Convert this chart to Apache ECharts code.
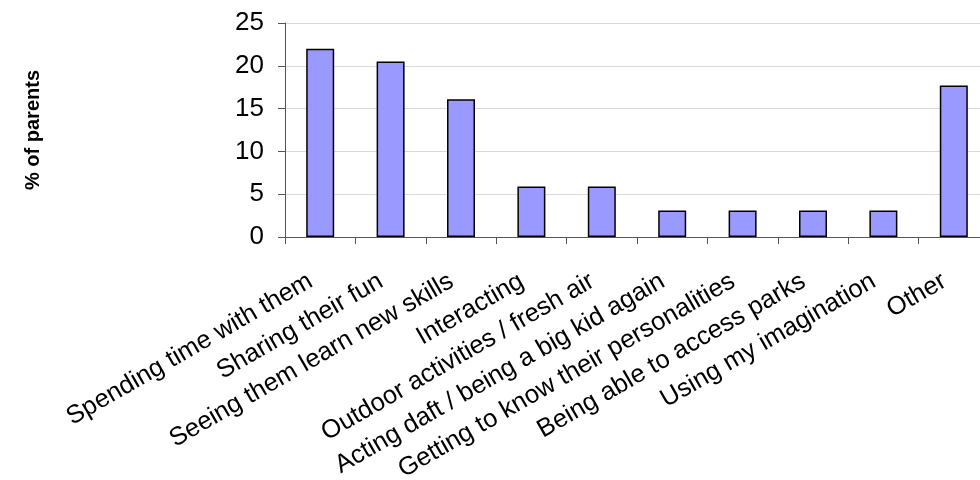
<!DOCTYPE html>
<html>
<head>
<meta charset="utf-8">
<script src="https://cdn.jsdelivr.net/npm/echarts@6/dist/echarts.min.js"></script>
<style>
  html, body { margin: 0; padding: 0; background: #fff; }
  #chart { width: 980px; height: 480px; }
</style>
</head>
<body>
<div id="chart"></div>
<script>
const categories = [
  "Spending time with them",
  "Sharing their fun",
  "Seeing them learn new skills",
  "Interacting",
  "Outdoor activities / fresh air",
  "Acting daft / being a big kid again",
  "Getting to know their personalities",
  "Being able to access parks",
  "Using my imagination",
  "Other"
];
const values = [22.0, 20.5, 16.1, 5.9, 5.9, 3.1, 3.1, 3.1, 3.1, 17.7];

const chart = echarts.init(document.getElementById("chart"));
chart.setOption({
  animation: false,
  textStyle: { fontFamily: "Liberation Sans, Arial, sans-serif" },
  grid: { left: 285, right: -9, top: 23, bottom: 243, containLabel: false, outerBoundsMode: "none" },
  xAxis: {
    type: "category",
    data: categories,
    axisLine: { lineStyle: { color: "#555", width: 1 } },
    axisTick: { show: true, inside: false, length: 7, alignWithLabel: false, lineStyle: { color: "#555" } },
    axisLabel: { rotate: 30, fontSize: 25.5, color: "#000", margin: 37, padding: [0, 11, 0, 0], interval: 0 },
    splitLine: { show: false }
  },
  yAxis: {
    type: "value",
    min: 0,
    max: 25,
    interval: 5,
    name: "% of parents",
    nameLocation: "middle",
    nameRotate: 90,
    nameGap: 242,
    nameTextStyle: { fontSize: 20, fontWeight: "bold", color: "#000" },
    axisLine: { show: true, lineStyle: { color: "#555" } },
    axisTick: { show: true, length: 7, lineStyle: { color: "#555" } },
    axisLabel: { fontSize: 26, color: "#000", margin: 21 },
    splitLine: { lineStyle: { color: "#d9d9d9", width: 1 } }
  },
  series: [{
    type: "bar",
    data: values,
    barWidth: 28,
    itemStyle: { color: "#9999ff", borderColor: "#000", borderWidth: 1.5 }
  }]
});
</script>
</body>
</html>
